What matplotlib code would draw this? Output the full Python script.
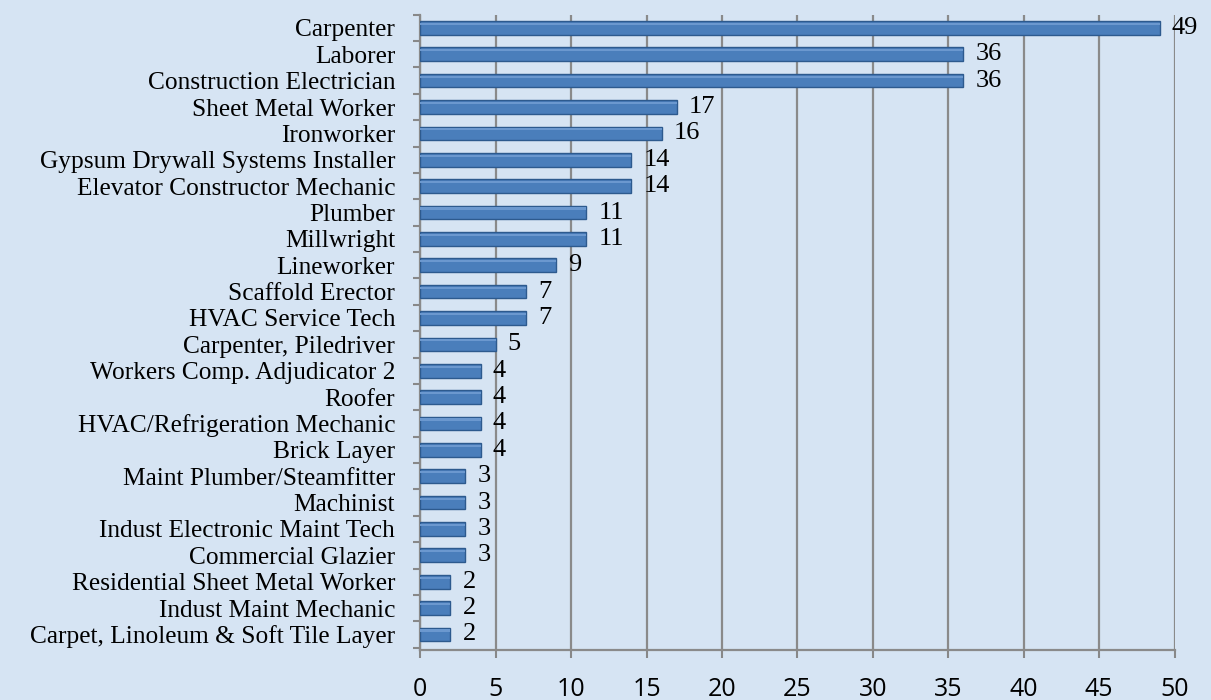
import numpy as np
from matplotlib import pyplot as plt

# Data
trades = ["Carpenter", "Laborer", "Construction Electrician", "Sheet Metal Worker",
          "Ironworker", "Gypsum Drywall Systems Installer", "Elevator Constructor Mechanic",
          "Plumber", "Millwright", "Lineworker", "Scaffold Erector", "HVAC Service Tech",
          "Carpenter, Piledriver", "Workers Comp. Adjudicator 2", "Roofer",
          "HVAC/Refrigeration Mechanic", "Brick Layer", "Maint Plumber/Steamfitter",
          "Machinist", "Indust Electronic Maint Tech", "Commercial Glazier",
          "Residential Sheet Metal Worker", "Indust Maint Mechanic",
          "Carpet, Linoleum & Soft Tile Layer"]
counts = [49, 36, 36, 17, 16, 14, 14, 11, 11, 9, 7, 7, 5, 4, 4, 4, 4, 3, 3, 3, 3, 2, 2, 2]
xticks = [0, 5, 10, 15, 20, 25, 30, 35, 40, 45, 50]

bg = '#d6e4f3'
fig = plt.figure(figsize=(12.11, 7.0), dpi=100)
fig.patch.set_facecolor(bg)
ax = fig.add_axes([0.347, 0.071, 0.623, 0.908])
ax.set_facecolor(bg)

y = np.arange(len(trades))
ax.barh(y, counts, height=0.52, color='#4a7ebb', edgecolor='#2d5a8e', linewidth=1.0, zorder=3)
# thin highlight on top of each bar for the 3D look
ax.barh(y - 0.15, counts, height=0.08, color='#6b98cf', linewidth=0, zorder=4)

for yi, c in zip(y, counts):
    ax.text(c + 0.8, yi, str(c), va='center', ha='left', fontsize=19,
            family='Liberation Serif', color='black', zorder=5)

ax.set_xlim(0, 50)
ax.set_ylim(len(trades) - 0.4, -0.45)
ax.set_xticks(xticks)
ax.set_xticklabels([str(t) for t in xticks], fontsize=18, family='Open Sans')
ax.set_yticks(y)
ax.set_yticklabels(trades, fontsize=18.3, family='Liberation Serif')
ax.set_yticks(np.arange(len(trades) + 1) - 0.5, minor=True)
ax.tick_params(axis='y', which='major', length=0, pad=26)
ax.tick_params(axis='y', which='major', pad=18)
ax.tick_params(axis='y', which='minor', length=5, color='#888888', width=1.5)
ax.tick_params(axis='x', length=6, color='#888888', width=1.5, pad=13)

ax.grid(axis='x', color='#8a8a8a', linewidth=1.6, zorder=0)
for s in ['top', 'right']:
    ax.spines[s].set_visible(False)
for s in ['left', 'bottom']:
    ax.spines[s].set_color('#8a8a8a')
    ax.spines[s].set_linewidth(1.6)

plt.savefig('out.png', dpi=100, facecolor=bg)
